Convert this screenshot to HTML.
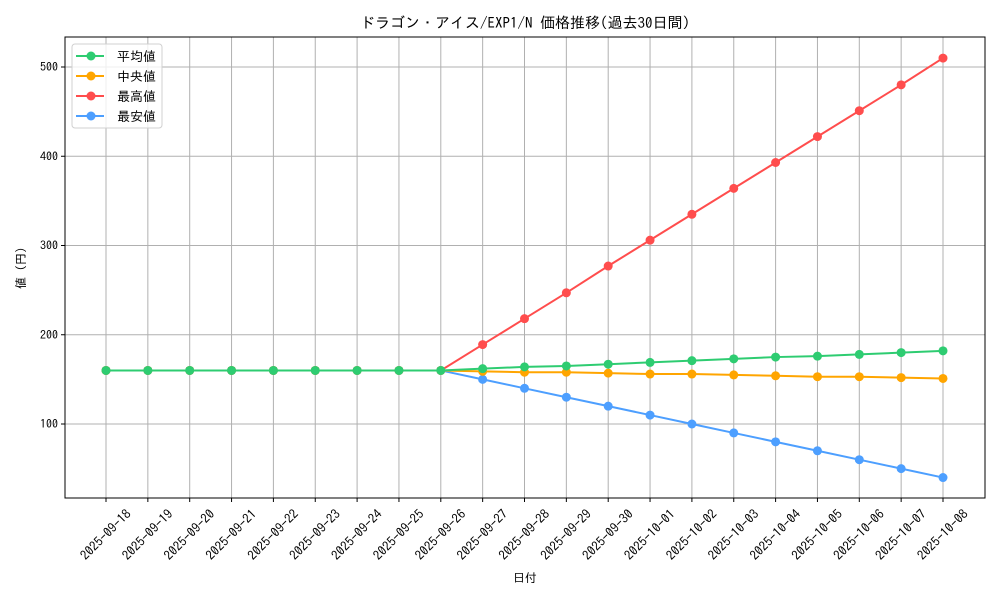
<!DOCTYPE html>
<html><head><meta charset="utf-8"><style>
body{margin:0;background:#fff;width:1000px;height:600px;overflow:hidden}
svg text{font-family:"IPAGothic","Noto Sans CJK JP",sans-serif;fill:#000}
</style></head><body>
<svg id="chart" width="1000" height="600"></svg>
<script>
const dates=["2025-09-18","2025-09-19","2025-09-20","2025-09-21","2025-09-22","2025-09-23","2025-09-24","2025-09-25","2025-09-26","2025-09-27","2025-09-28","2025-09-29","2025-09-30","2025-10-01","2025-10-02","2025-10-03","2025-10-04","2025-10-05","2025-10-06","2025-10-07","2025-10-08"];
const avgValues=[160,160,160,160,160,160,160,160,160,162,164,165,167,169,171,173,175,176,178,180,182];
const medianValues=[160,160,160,160,160,160,160,160,160,159,158,158,157,156,156,155,154,153,153,152,151];
const maxValues=[160,160,160,160,160,160,160,160,160,189,218,247,277,306,335,364,393,422,451,480,510];
const minValues=[160,160,160,160,160,160,160,160,160,150,140,130,120,110,100,90,80,70,60,50,40];
const yTicks=[100,200,300,400,500];
const seriesNames=["平均値","中央値","最高値","最安値"];
const NS="http://www.w3.org/2000/svg";
const svg=document.getElementById('chart');
const L=65,R=985,T=37,B=498;
const xs=i=>106+i*(943-106)/(dates.length-1);
const ys=v=>513.25-v*0.8925;
function mk(tag,attrs,parent){const e=document.createElementNS(NS,tag);for(const k in attrs)e.setAttribute(k,attrs[k]);(parent||svg).appendChild(e);return e;}
const grid=mk('g',{});


dates.forEach((d,i)=>{
  mk('line',{x1:xs(i),x2:xs(i),y1:T,y2:B,stroke:'#b0b0b0','stroke-width':1},grid);
  mk('line',{x1:xs(i),x2:xs(i),y1:B,y2:B+4,stroke:'#000'},grid);
  const cx=xs(i),cy=535;
  const t=mk('text',{x:cx,y:cy+4,'font-size':13,'text-anchor':'middle',transform:`rotate(-45 ${cx} ${cy})`});
  t.textContent=d;
  
  
});
yTicks.forEach(v=>{
  mk('line',{x1:L,x2:R,y1:ys(v),y2:ys(v),stroke:'#b0b0b0','stroke-width':1},grid);
  mk('line',{x1:L-4,x2:L,y1:ys(v),y2:ys(v),stroke:'#000'},grid);
  const t=mk('text',{x:L-7,y:ys(v)+4,'font-size':12,'text-anchor':'end'});
  t.textContent=v;
  
  
});
const colors=['#2ecc71','#ffa500','#ff4d4d','#4d9fff'];
const all=[avgValues,medianValues,maxValues,minValues];
const keys=['avg','median','max','min'];
[2,3,1,0].forEach(s=>{
  const g=mk('g',{});
  
  
  mk('polyline',{points:all[s].map((v,i)=>xs(i)+','+ys(v)).join(' '),fill:'none',stroke:colors[s],'stroke-width':2},g);
  all[s].forEach((v,i)=>{const c=mk('circle',{cx:xs(i),cy:ys(v),r:4.5,fill:colors[s]},g);
    
    });
});
mk('rect',{x:L,y:T,width:R-L,height:B-T,fill:'none',stroke:'#000','stroke-width':1});
const lg=mk('g',{});


mk('rect',{x:72,y:44,width:90,height:84,rx:3,fill:'#fff','fill-opacity':0.8,stroke:'#d0d0d0'},lg);
seriesNames.forEach((n,i)=>{
  const y=56+i*20;
  mk('line',{x1:76,x2:104,y1:y,y2:y,stroke:colors[i],'stroke-width':2},lg);
  mk('circle',{cx:91,cy:y,r:4.5,fill:colors[i]},lg);
  const t=mk('text',{x:117,y:y+5,'font-size':13},lg);t.textContent=n;
  
  
});
const title=mk('text',{x:525,y:28,'font-size':15,'text-anchor':'middle'});
title.textContent='ドラゴン・アイス/EXP1/N 価格推移(過去30日間)';


const xt=mk('text',{x:525,y:582,'font-size':12,'text-anchor':'middle'});
xt.textContent='日付';


const yt=mk('text',{x:25,y:268,'font-size':12,'text-anchor':'middle',transform:'rotate(-90 25 268)'});
yt.textContent='値 (円)';


</script>
</body></html>
